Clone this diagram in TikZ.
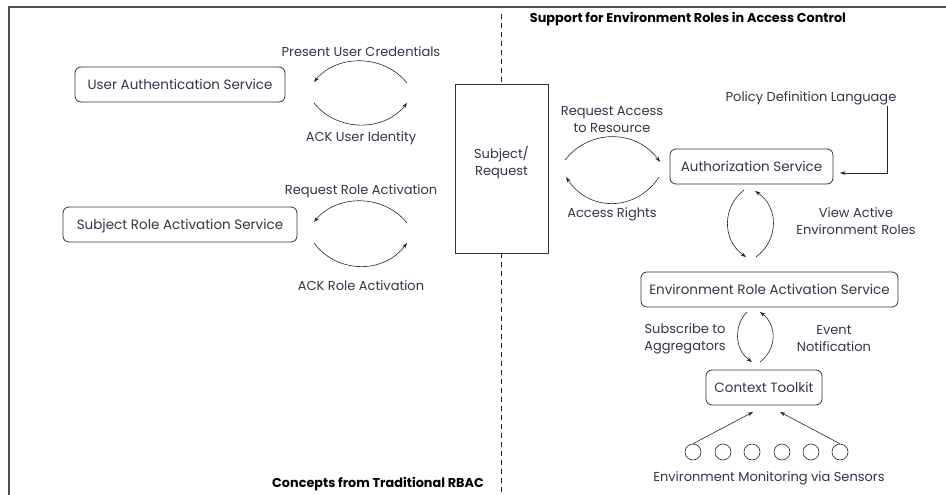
\documentclass[tikz,border=0pt]{standalone}
\usepackage{fontspec}
\setmainfont{Poppins}
\usetikzlibrary{arrows.meta}
\definecolor{txt}{HTML}{34344A}
\definecolor{frm}{HTML}{505050}
\begin{document}
\begin{tikzpicture}[x=1pt,y=-1pt,
  lbl/.style={font=\fontsize{13}{17}\selectfont, text=txt, align=center, inner sep=0pt, yshift=-1.5pt},
  ttl/.style={font=\bfseries\fontsize{12.8}{14}\selectfont, text=black, inner sep=0pt, yshift=-1.5pt},
  svc/.style={draw=black!80, rounded corners=6pt, line width=0.8pt, inner sep=0pt, font=\fontsize{13.5}{16}\selectfont, text=txt, text depth=1pt},
  arr/.style={-{Stealth[length=5.5pt,width=3.8pt]}, line width=0.6pt, draw=black!85},
  sensor/.style={circle, draw=black!85, line width=0.6pt, minimum size=16pt, inner sep=0pt}]
\useasboundingbox (0,0) rectangle (946,495);
% frame
\coordinate (fbl) at (9,495);
\coordinate (ftl) at (9,7);
\coordinate (ftr) at (946,7);
\draw[frm, line width=1.5pt] (fbl) -- (ftl) -- (ftr);
% titles
\node[ttl] (t1) at (688,18) {Support for Environment Roles in Access Control};
\node[ttl] (t2) at (378,483) {Concepts from Traditional RBAC};
% nodes
\node[svc, minimum width=210pt, minimum height=35pt] (uas) at (180,84.5) {User Authentication Service};
\node[svc, minimum width=234pt, minimum height=35pt] (sras) at (180,224.5) {Subject Role Activation Service};
\node[draw=black!80, line width=0.8pt, minimum width=93pt, minimum height=169pt, inner sep=0pt] (subj) at (501.5,168.5) {};
\node[lbl] (subjt) at (501.5,161) {Subject/\\Request};
\node[svc, minimum width=163pt, minimum height=35pt] (auth) at (751.5,166.5) {Authorization Service};
\node[svc, minimum width=257pt, minimum height=35pt] (eras) at (769.5,289.5) {Environment Role Activation Service};
\node[svc, minimum width=116pt, minimum height=35pt] (ct) at (764,387.5) {Context Toolkit};
% dashed divider
\coordinate (dtop) at (501.5,14);
\coordinate (dbot) at (501.5,495);
\draw[dashed, dash pattern=on 5pt off 4pt, line width=0.7pt, black!85] (dtop) -- (subj.north);
\draw[dashed, dash pattern=on 5pt off 4pt, line width=0.7pt, black!85] (subj.south) -- (dbot);
% labels
\node[lbl] (l1) at (361,50) {Present User Credentials};
\node[lbl] (l2) at (361,137) {ACK User Identity};
\node[lbl] (l3) at (361,190) {Request Role Activation};
\node[lbl] (l4) at (361,284) {ACK Role Activation};
\node[lbl] (l5) at (612,118) {Request Access\\to Resource};
\node[lbl] (l6) at (612,213) {Access Rights};
\node[lbl] (l7) at (856,220) {View Active\\Environment Roles};
\node[lbl] (l8) at (685,337) {Subscribe to\\Aggregators};
\node[lbl] (l9) at (834,337) {Event\\Notification};
\node[lbl] (l10) at (769,477) {Environment Monitoring via Sensors};
\node[lbl] (pdl) at (811,97) {Policy Definition Language};
% left arcs
\coordinate (a1s) at (407,83); \coordinate (a1e) at (314,82);
\draw[arr] (a1s) .. controls (384,54) and (337,54) .. (a1e);
\coordinate (a2s) at (314,103); \coordinate (a2e) at (407,103);
\draw[arr] (a2s) .. controls (337,132) and (384,132) .. (a2e);
\coordinate (a3s) at (407,223); \coordinate (a3e) at (314,222);
\draw[arr] (a3s) .. controls (384,194) and (337,194) .. (a3e);
\coordinate (a4s) at (314,243); \coordinate (a4e) at (407,243);
\draw[arr] (a4s) .. controls (337,274) and (384,274) .. (a4e);
% subject <-> authorization
\coordinate (b1s) at (565,160); \coordinate (b1e) at (660,162);
\draw[arr] (b1s) .. controls (589,129) and (636,129) .. (b1e);
\coordinate (b2s) at (659,177); \coordinate (b2e) at (566,177);
\draw[arr] (b2s) .. controls (636,212) and (589,212) .. (b2e);
% policy
\coordinate (ps) at (887,106); \coordinate (pe) at (840,173);
\draw[arr] (ps) |- (pe);
% auth <-> eras
\coordinate (c1s) at (744,190); \coordinate (c1e) at (746,257);
\draw[arr] (c1s) .. controls (722,207) and (722,240) .. (c1e);
\coordinate (c2s) at (756,257); \coordinate (c2e) at (755,191);
\draw[arr] (c2s) .. controls (779,240) and (779,207) .. (c2e);
% eras <-> ct
\coordinate (d1s) at (747,312); \coordinate (d1e) at (752,362);
\draw[arr] (d1s) .. controls (734,325) and (734,349) .. (d1e);
\coordinate (d2s) at (760,362); \coordinate (d2e) at (760,312);
\draw[arr] (d2s) .. controls (777,349) and (777,325) .. (d2e);
% sensors
\foreach \i/\x in {1/693,2/723,3/752,4/782,5/811,6/840}
  \node[sensor] (s\i) at (\x,452) {};
\coordinate (e1e) at (753,412);
\coordinate (e2e) at (780,412);
\draw[arr] (s1.north) -- (e1e);
\draw[arr] (s6.north) -- (e2e);
\end{tikzpicture}
\end{document}
